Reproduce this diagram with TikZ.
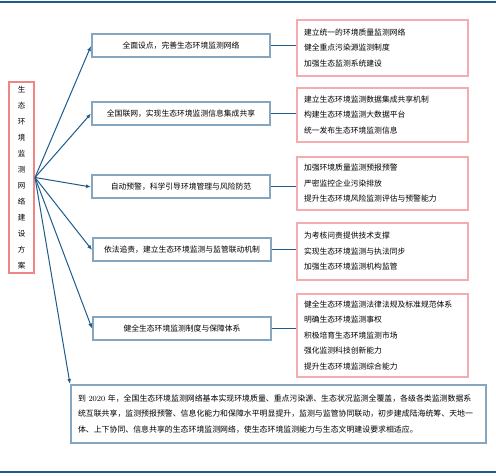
\documentclass[tikz,border=0pt]{standalone}
\usepackage{fontspec}
\newfontfamily\cjk{Noto Sans CJK SC}
\usetikzlibrary{arrows.meta, positioning}
\definecolor{lineblue}{HTML}{1D5C8C}
\definecolor{boxblue}{HTML}{86A6C0}
\definecolor{boxpink}{HTML}{F6ABAE}
\definecolor{planred}{HTML}{F08585}

\begin{document}
\begin{tikzpicture}[x=1pt, y=-1pt,
  planbox/.style={draw=planred, line width=2pt, minimum width=25pt, minimum height=191pt, inner sep=0pt, align=center, font=\cjk\fontsize{7.5}{16}\selectfont},
  goalbox/.style={draw=boxblue, line width=2pt, minimum width=178pt, minimum height=23pt, inner sep=2pt, font=\cjk\fontsize{7.8}{9}\selectfont},
  subbox/.style={draw=boxpink, line width=2pt, text width=157pt, align=left, inner xsep=7pt, inner ysep=0pt, font=\cjk\fontsize{7.8}{15.5}\selectfont},
  link/.style={lineblue, line width=1pt},
  arr/.style={link, -{Latex[length=5pt, width=4pt]}}]
  \useasboundingbox (0,0) rectangle (496,476);
  \draw[lineblue, line width=1.5pt] (0,2) -- (496,2);
  \draw[lineblue, line width=1.5pt] (0,472) -- (496,472);

  \node[planbox] (plan) at (21.5,177.5) {生\\态\\环\\境\\监\\测\\网\\络\\建\\设\\方\\案};

  \node[goalbox] (goal1) at (181,46) {全面设点，完善生态环境监测网络};
  \node[goalbox] (goal2) at (181,113.5) {全国联网，实现生态环境监测信息集成共享};
  \node[goalbox] (goal3) at (181,187) {自动预警，科学引导环境管理与风险防范};
  \node[goalbox] (goal4) at (182,250) {依法追责，建立生态环境监测与监管联动机制};
  \node[goalbox] (goal5) at (182,328.5) {健全生态环境监测制度与保障体系};

  \node[subbox, minimum height=56pt] (sub1) at (382.5,48) {建立统一的环境质量监测网络\\健全重点污染源监测制度\\加强生态监测系统建设};
  \node[subbox, minimum height=54pt] (sub2) at (382.5,115) {建立生态环境监测数据集成共享机制\\构建生态环境监测大数据平台\\统一发布生态环境监测信息};
  \node[subbox, minimum height=53pt] (sub3) at (382.5,183.5) {加强环境质量监测预报预警\\严密监控企业污染排放\\提升生态环境风险监测评估与预警能力};
  \node[subbox, minimum height=57pt] (sub4) at (382.5,251.5) {为考核问责提供技术支撑\\实现生态环境监测与执法同步\\加强生态环境监测机构监管};
  \node[subbox, minimum height=83pt] (sub5) at (382.5,335.5) {健全生态环境监测法律法规及标准规范体系\\明确生态环境监测事权\\积极培育生态环境监测市场\\强化监测科技创新能力\\提升生态环境监测综合能力};

  \node[draw=boxblue, line width=2pt, minimum width=415pt, minimum height=58pt, text width=401pt, align=left, inner xsep=7pt, inner ysep=0pt, font=\cjk\fontsize{7.9}{15.5}\selectfont] (target) at (278.5,414) {到~{\rmfamily 2020}~年，全国生态环境监测网络基本实现环境质量、重点污染源、生态状况监测全覆盖，各级各类监测数据系\\统互联共享，监测预报预警、信息化能力和保障水平明显提升，监测与监管协同联动，初步建成陆海统筹、天地一\\体、上下协同、信息共享的生态环境监测网络，使生态环境监测能力与生态文明建设要求相适应。};

  \foreach \i in {1,...,5} {
    \draw[arr] (plan.east) -- (goal\i.west);
    \draw[link] (goal\i.east) -- (goal\i.east -| sub\i.west);
  }
  \draw[arr] (plan.east) -- (target.north west);
\end{tikzpicture}
\end{document}
